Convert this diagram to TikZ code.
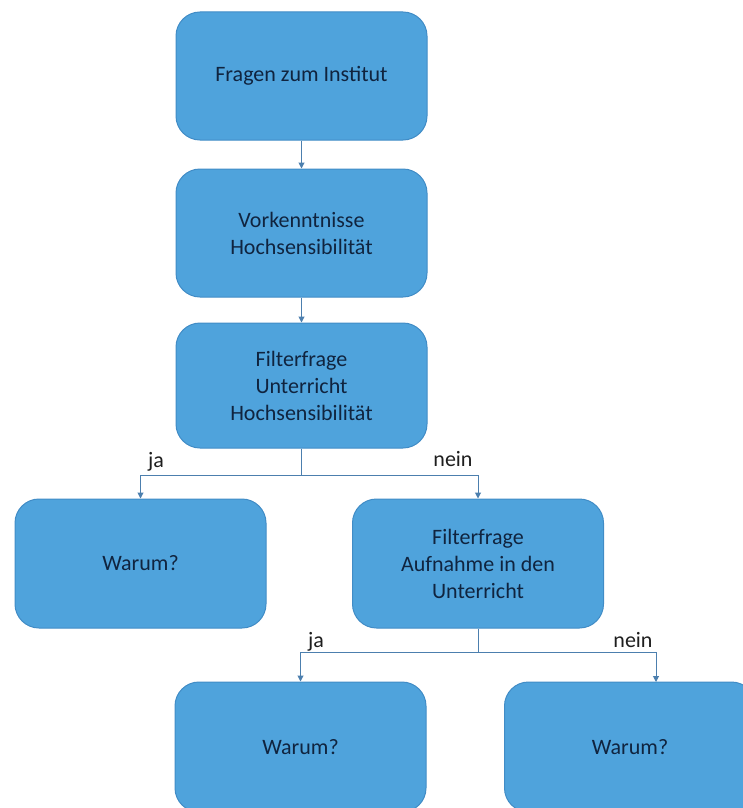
\documentclass[tikz,border=0pt]{standalone}
\usepackage{fontspec}
\setmainfont{Carlito}
\usetikzlibrary{arrows.meta}
\definecolor{boxfill}{HTML}{4FA3DC}
\definecolor{boxline}{HTML}{418CC6}
\definecolor{boxtext}{HTML}{10243F}
\definecolor{conncol}{HTML}{4C7FAE}
\definecolor{labcol}{HTML}{1E1E1E}
\tikzset{
  flowbox/.style={draw=boxline, line width=1pt, fill=boxfill, rounded corners=24pt,
    minimum width=251pt, align=center, text=boxtext,
    font=\fontsize{22}{27}\selectfont, inner sep=0pt},
  conn/.style={draw=conncol, line width=1pt, -{Triangle[length=6pt,width=6pt]}},
  plainconn/.style={draw=conncol, line width=1pt},
  branchlab/.style={text=labcol, font=\fontsize{22}{24}\selectfont, inner sep=0pt}
}
\begin{document}
\begin{tikzpicture}[x=1pt,y=-1pt]
\useasboundingbox (0,0) rectangle (743,808);
\clip (0,0) rectangle (743,808);
\node[flowbox, minimum height=128pt] (b1) at (301.5,76) {Fragen zum Institut};
\node[flowbox, minimum height=128pt] (b2) at (301.5,233) {Vorkenntnisse\\Hochsensibilität};
\node[flowbox, minimum height=125pt] (b3) at (301.5,385.5) {Filterfrage\\Unterricht\\Hochsensibilität};
\node[flowbox, minimum height=129pt] (b4) at (140.5,563.5) {Warum?};
\node[flowbox, minimum height=129pt] (b5) at (478,563.5) {Filterfrage\\Aufnahme in den\\Unterricht};
\node[flowbox, minimum height=130pt] (b6) at (300.5,747) {Warum?};
\node[flowbox, minimum height=130pt] (b7) at (630,747) {Warum?};

\draw[conn] (b1) -- (b2);
\draw[conn] (b2) -- (b3);

\coordinate (j1) at (301.5,475);
\draw[plainconn] (b3.south) -- (j1);
\draw[conn] (j1) -| (b4.north);
\draw[conn] (j1) -| (b5.north);

\coordinate (j2) at (478,652);
\coordinate (t7) at (656,682);
\draw[plainconn] (b5.south) -- (j2);
\draw[conn] (j2) -| (b6.north);
\draw[conn] (j2) -| (t7);

\node[branchlab] (l1) at (156,462) {ja};
\node[branchlab] (l2) at (453,459) {nein};
\node[branchlab] (l3) at (316,642) {ja};
\node[branchlab] (l4) at (633,640) {nein};
\end{tikzpicture}
\end{document}
